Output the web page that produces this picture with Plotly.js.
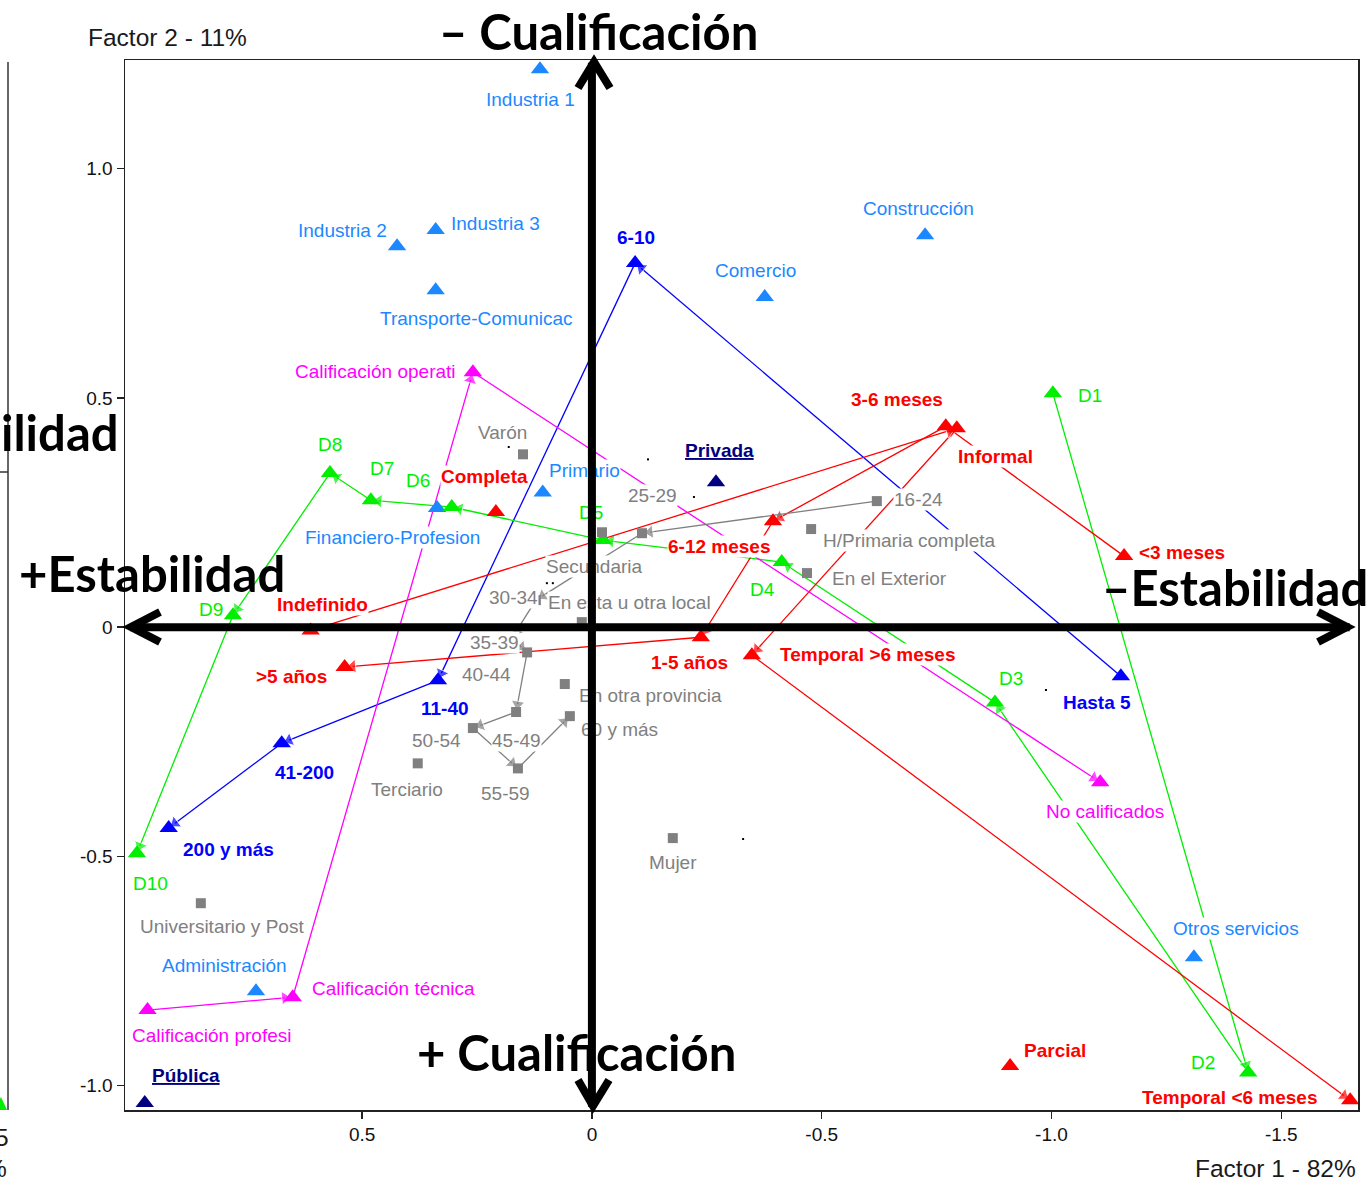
<!DOCTYPE html>
<html><head><meta charset="utf-8">
<script src="https://cdn.plot.ly/plotly-3.0.1.min.js"></script>
<style>html,body{margin:0;padding:0;background:#fff}</style>
</head><body><div id="chart" style="width:1368px;height:1184px"></div>
<script>
// ---------- DATA (Factor 1, Factor 2 coordinates) ----------
const sectorNames = ["Industria 1","Industria 2","Industria 3","Transporte-Comunicac","Construcción","Comercio","Primario","Financiero-Profesion","Administración","Otros servicios"];
const sectorF1 = [0.113,0.424,0.340,0.340,-0.725,-0.376,0.107,0.337,0.731,-1.310];
const sectorF2 = [1.217,0.831,0.866,0.735,0.855,0.720,0.294,0.260,-0.794,-0.720];

const instNames = ["Privada","Pública"];
const instF1 = [-0.270,0.973];
const instF2 = [0.316,-1.038];

const sizeNames = ["Hasta 5","6-10","11-40","41-200","200 y más"];
const sizeF1 = [-1.151,-0.094,0.335,0.675,0.921];
const sizeF2 = [-0.107,0.794,-0.116,-0.253,-0.438];

const decilNames = ["D1","D2","D3","D4","D5","D6","D7","D8","D9","D10"];
const decilF1 = [-1.003,-1.428,-0.877,-0.413,-0.024,0.305,0.481,0.570,0.781,0.990];
const decilF2 = [0.510,-0.971,-0.164,0.142,0.190,0.262,0.277,0.336,0.026,-0.493];

const durNames = ["<3 meses","3-6 meses","6-12 meses","1-5 años",">5 años"];
const durF1 = [-1.158,-0.770,-0.394,-0.237,0.538];
const durF2 = [0.155,0.438,0.231,-0.022,-0.087];

const contNames = ["Indefinido","Informal","Temporal >6 meses","Temporal <6 meses"];
const contF1 = [0.612,-0.794,-0.348,-1.650];
const contF2 = [-0.007,0.434,-0.061,-1.032];

const jornNames = ["Completa","Parcial"];
const jornF1 = [0.209,-0.910];
const jornF2 = [0.251,-0.957];

const califNames = ["Calificación profesi","Calificación técnica","Calificación operati","No calificados"];
const califF1 = [0.967,0.651,0.259,-1.106];
const califF2 = [-0.835,-0.807,0.556,-0.338];

const sexoNames = ["Varón","Mujer"];
const sexoF1 = [0.150,-0.176];
const sexoF2 = [0.377,-0.460];

const edadNames = ["16-24","25-29","30-34","35-39","40-44","45-49","50-54","55-59","60 y más"];
const edadF1 = [-0.620,-0.109,0.122,0.174,0.141,0.165,0.259,0.161,0.048];
const edadF2 = [0.275,0.205,0.059,-0.024,-0.055,-0.185,-0.220,-0.308,-0.194];

const educNames = ["Universitario y Post","Terciario","Secundaria","H/Primaria completa"];
const educF1 = [0.851,0.379,-0.022,-0.477];
const educF2 = [-0.602,-0.297,0.207,0.214];

const migNames = ["En esta u otra local","En otra provincia","En el Exterior"];
const migF1 = [0.022,0.059,-0.468];
const migF2 = [0.011,-0.124,0.118];

const dotF1 = [0.181,-0.122,-0.222,0.098,0.085,-0.329,-0.988];
const dotF2 = [0.393,0.366,0.284,0.096,0.096,-0.462,-0.137];

const xTickVals = [0.5,0,-0.5,-1.0,-1.5];
const xTickText = ["0.5","0","-0.5","-1.0","-1.5"];
const yTickVals = [1.0,0.5,0,-0.5,-1.0];
const yTickText = ["1.0","0.5","0","-0.5","-1.0"];

// ---------- STYLE ----------
const COL = {sector:'#1C88FF', inst:'#000080', size:'#0000FF', green:'#00EE00', red:'#FF0000', mag:'#FF00FF', gray:'#808080'};
const XR = [1.016,-1.667], YR = [-1.053,1.237];
const PL=125, PR=1358, PT=60, PB=1110;
const px = p => (p-PL)/(PR-PL);
const py = p => (PB-p)/(PB-PT);
const FONT = 'Liberation Sans, Arial, sans-serif';
const BIG = 'Lato, Open Sans, sans-serif';

// label pixel offsets [dx right, dy up]
const OFF = {
 "Industria 1":[-9,-30],"Industria 2":[-55,16],"Industria 3":[60,7],"Transporte-Comunicac":[41,-28],"Construcción":[-7,27],"Comercio":[-9,27],"Primario":[42,22],"Financiero-Profesion":[-45,-30],"Administración":[-31,26],"Otros servicios":[42,29],
 "Privada":[4,32],"Pública":[41,28],
 "Hasta 5":[-24,-26],"6-10":[1,26],"11-40":[7,-28],"41-200":[23,-29],"200 y más":[60,-21],
 "D1":[37,-2],"D2":[-45,10],"D3":[16,24],"D4":[-19,-27],"D5":[-12,28],"D6":[-34,27],"D7":[11,32],"D8":[0,29],"D9":[-22,6],"D10":[14,-30],
 "<3 meses":[58,4],"3-6 meses":[-49,27],"Informal":[39,-28],"6-12 meses":[-54,-25],"1-5 años":[-11,-25],">5 años":[-53,-9],"Indefinido":[12,26],"Temporal >6 meses":[116,1],"Temporal <6 meses":[-120,3],"Completa":[-11,36],"Parcial":[45,15],
 "Calificación profesi":[64,-25],"Calificación técnica":[101,9],"Calificación operati":[-97,1],"No calificados":[5,-29],
 "Varón":[-20,22],"Mujer":[0,-24],"16-24":[42,2],"25-29":[10,38],"30-34":[-22,3],"35-39":[-17,-4],"40-44":[-41,-22],"45-49":[0,-28],"50-54":[-36,-12],"55-59":[-12,-25],"60 y más":[50,-13],
 "Secundaria":[-8,-34],"H/Primaria completa":[98,-11],"Terciario":[-11,-26],"Universitario y Post":[21,-23],
 "En esta u otra local":[48,20],"En otra provincia":[86,-11],"En el Exterior":[83,-5]
};

const groups = [
 {n:sectorNames,x:sectorF1,y:sectorF2,c:COL.sector,sym:'triangle-up',path:false,bold:false},
 {n:instNames,x:instF1,y:instF2,c:COL.inst,sym:'triangle-up',path:false,bold:true,u:true},
 {n:sizeNames,x:sizeF1,y:sizeF2,c:COL.size,sym:'triangle-up',path:true,bold:true},
 {n:decilNames,x:decilF1,y:decilF2,c:COL.green,sym:'triangle-up',path:true,bold:false},
 {n:durNames,x:durF1,y:durF2,c:COL.red,sym:'triangle-up',path:true,bold:true},
 {n:contNames,x:contF1,y:contF2,c:COL.red,sym:'triangle-up',path:true,bold:true},
 {n:jornNames,x:jornF1,y:jornF2,c:COL.red,sym:'triangle-up',path:false,bold:true},
 {n:califNames,x:califF1,y:califF2,c:COL.mag,sym:'triangle-up',path:true,bold:false},
 {n:sexoNames,x:sexoF1,y:sexoF2,c:COL.gray,sym:'square',path:false,bold:false},
 {n:edadNames,x:edadF1,y:edadF2,c:COL.gray,sym:'square',path:true,bold:false},
 {n:educNames,x:educF1,y:educF2,c:COL.gray,sym:'square',path:false,bold:false},
 {n:migNames,x:migF1,y:migF2,c:COL.gray,sym:'square',path:false,bold:false}
];

const esc = s => s.replace(/&/g,'&amp;').replace(/</g,'&lt;').replace(/>/g,'&gt;');
const traces = [], labels = [];
groups.forEach(g => {
  if (g.path) traces.push({x:g.x,y:g.y,type:'scatter',mode:'lines+markers',hoverinfo:'skip',
    line:{color:g.c,width:1.3},
    marker:{symbol:'triangle-up',color:g.c,size:g.x.map((v,i)=>i===0?0:12),angleref:'previous',standoff:8}});
});
traces.push({x:dotF1,y:dotF2,type:'scatter',mode:'markers',hoverinfo:'skip',marker:{symbol:'square',size:2,color:'#000'}});
groups.forEach(g => {
  traces.push({x:g.x,y:g.y,type:'scatter',mode:'markers',hoverinfo:'skip',
    marker:{symbol:g.sym,color:g.c,size:g.sym==='square'?10:16,line:{width:0}}});
  g.n.forEach((name,i) => {
    const o = OFF[name] || [0,20];
    let t = esc(name); if (g.u) t = '<u>'+t+'</u>';
    labels.push({x:g.x[i],y:g.y[i],xref:'x',yref:'y',text:t,showarrow:false,xshift:o[0],yshift:o[1],
      bgcolor:'white',borderpad:0,font:{family:FONT,size:19,color:g.c,weight:g.bold?'bold':'normal'}});
  });
});

// big decorative texts
const deco = [
 {x:px(598),y:py(31),text:'– Cualificación',xanchor:'center'},
 {x:px(576),y:py(1052),text:'+ Cualificación',xanchor:'center'},
 {x:px(152),y:py(573),text:'+Estabilidad',xanchor:'center'},
 {x:px(1100),y:py(587),text:'–Estabilidad',xanchor:'left'},
 {x:px(121),y:py(432),text:'ilidad',xanchor:'right'}
].map(a => Object.assign(a,{xref:'paper',yref:'paper',yanchor:'middle',showarrow:false,font:{family:BIG,size:49,color:'#000',weight:'bold'}}));

const small = [
 {x:px(167),y:py(38),text:'Factor 2 - 11%',xanchor:'center'},
 {x:px(1275),y:py(1168),text:'Factor 1 - 82%',xanchor:'center'},
 {x:px(11),y:py(1137),text:'5',xanchor:'right'},
 {x:px(9),y:py(1168),text:'%',xanchor:'right'}
].map(a => Object.assign(a,{xref:'paper',yref:'paper',yanchor:'middle',showarrow:false,font:{family:FONT,size:24.5,color:'#1a1a1a'}}));

// black cross axes (drawn above labels)
const cross = [
 {x:0,y:YR[1]-0.006,ax:0,ay:YR[0]+0.004},
 {x:XR[1]+0.018,y:0,ax:XR[0]-0.008,ay:0}
].map(a => Object.assign(a,{xref:'x',yref:'y',axref:'x',ayref:'y',text:'',showarrow:true,arrowhead:0,arrowwidth:8,arrowcolor:'#000',standoff:0,startstandoff:0,font:{size:1}}));

const chev = (pts) => ({type:'path',xref:'paper',yref:'paper',path:'M'+pts.map(p=>px(p[0])+','+py(p[1])).join(' L'),line:{color:'#000',width:8}});
const shapes = [
 chev([[578,88],[594,62],[610,88]]),
 chev([[578,1080],[593,1106],[609,1080]]),
 chev([[160,612],[131,627],[160,642]]),
 chev([[1318,612],[1347,627],[1318,642]]),
 {type:'line',xref:'paper',yref:'paper',x0:px(8),x1:px(8),y0:py(62),y1:py(1110),line:{color:'#333',width:1.5}},
 {type:'line',xref:'paper',yref:'paper',x0:px(0),x1:px(8),y0:py(472),y1:py(472),line:{color:'#333',width:1.5}},
 {type:'path',xref:'paper',yref:'paper',path:'M'+px(-6)+','+py(1110)+' L'+px(1)+','+py(1097)+' L'+px(7)+','+py(1110)+' Z',fillcolor:COL.green,line:{width:0}}
];

const axisCommon = {showgrid:false,zeroline:false,showline:true,mirror:true,linecolor:'#222',linewidth:1.5,
  ticks:'outside',tickcolor:'#222',tickwidth:1.5,ticklen:7,tickfont:{family:FONT,size:19,color:'#111'},autorange:false,tickmode:'array'};

const layout = {
  width:1368,height:1184,margin:{l:PL,r:1368-PR,t:PT,b:1184-PB},
  paper_bgcolor:'#fff',plot_bgcolor:'#fff',showlegend:false,
  xaxis:Object.assign({},axisCommon,{range:XR,tickvals:xTickVals,ticktext:xTickText}),
  yaxis:Object.assign({},axisCommon,{range:YR,tickvals:yTickVals,ticktext:yTickText}),
  annotations:labels.concat(cross,deco,small),
  shapes:shapes
};
Plotly.newPlot('chart',traces,layout,{staticPlot:true});
</script></body></html>
